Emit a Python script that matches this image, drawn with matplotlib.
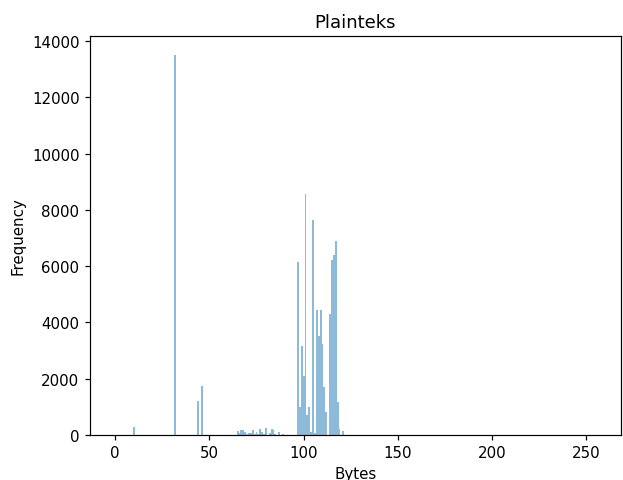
import matplotlib
matplotlib.use('Agg')
import matplotlib.pyplot as plt
import numpy as np

byte_values = np.arange(256)
freq = np.zeros(256)

# newline, space, punctuation
punct_bytes = [10, 32, 44, 46]
punct_freq = [300, 13500, 1220, 1740]

# uppercase A..Z (65..90)
upper_freq = [140, 60, 160, 190, 90, 40, 60, 80, 190, 30, 90, 50, 210,
              100, 40, 250, 0, 70, 200, 160, 30, 0, 110, 0, 40, 0]

# lowercase a..z (97..122)
lower_freq = [6150, 1000, 3150, 2100, 8550, 700, 980, 120, 7650, 60, 4450,
              3500, 4450, 3250, 1700, 800, 0, 4300, 6200, 6400, 6900, 1170,
              200, 0, 150, 0]

freq[punct_bytes] = punct_freq
freq[65:91] = upper_freq
freq[97:123] = lower_freq

fig = plt.figure(figsize=(623 / 108, 481 / 108), dpi=108)
ax = fig.add_axes([90 / 623, 45 / 481, 531 / 623, 399 / 481])
ax.bar(byte_values, freq, width=1.0, alpha=0.5)
ax.set_title('Plainteks')
ax.set_xlabel('Bytes')
ax.set_ylabel('Frequency')
fig.savefig('out.png', dpi=108)
